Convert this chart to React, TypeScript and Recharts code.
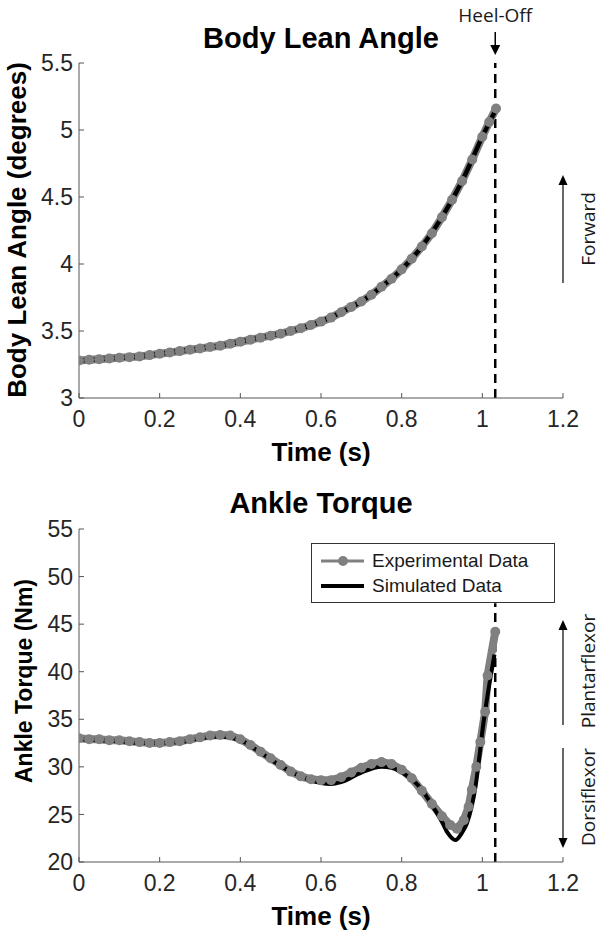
import * as React from 'react';
import {
  Legend,
  Line,
  LineChart,
  ReferenceLine,
  XAxis,
  YAxis,
} from 'recharts';

// body lean angle (deg) over time (s)
const leanExpTime = [
  0, 0.025, 0.05, 0.075, 0.1, 0.125, 0.15, 0.175, 0.2, 0.225, 0.25, 0.275,
  0.3, 0.325, 0.35, 0.375, 0.4, 0.425, 0.45, 0.475, 0.5, 0.525, 0.55, 0.575,
  0.6, 0.625, 0.65, 0.675, 0.7, 0.725, 0.75, 0.775, 0.8, 0.825, 0.85, 0.875,
  0.9, 0.925, 0.95, 0.975, 1.0, 1.017, 1.034,
];
const leanExpAngle = [
  3.28, 3.285, 3.29, 3.295, 3.3, 3.305, 3.31, 3.32, 3.33, 3.34, 3.35, 3.36,
  3.37, 3.38, 3.39, 3.405, 3.42, 3.435, 3.45, 3.465, 3.48, 3.5, 3.52, 3.545,
  3.57, 3.6, 3.64, 3.68, 3.72, 3.77, 3.83, 3.89, 3.96, 4.04, 4.13, 4.23,
  4.35, 4.48, 4.62, 4.78, 4.95, 5.06, 5.16,
];
const leanSimTime = [
  0, 0.05, 0.1, 0.15, 0.2, 0.25, 0.3, 0.35, 0.4, 0.45, 0.5, 0.55, 0.6, 0.65,
  0.7, 0.75, 0.8, 0.85, 0.9, 0.95, 1.0, 1.03,
];
const leanSimAngle = [
  3.28, 3.29, 3.3, 3.31, 3.33, 3.35, 3.37, 3.39, 3.42, 3.45, 3.48, 3.52, 3.57,
  3.64, 3.72, 3.83, 3.96, 4.13, 4.35, 4.62, 4.95, 5.13,
];

// ankle torque (Nm) over time (s)
const torqueExpTime = [
  0, 0.025, 0.05, 0.075, 0.1, 0.125, 0.15, 0.175, 0.2, 0.225, 0.25, 0.275,
  0.3, 0.325, 0.35, 0.375, 0.4, 0.425, 0.45, 0.475, 0.5, 0.525, 0.55, 0.575,
  0.6, 0.625, 0.65, 0.675, 0.7, 0.725, 0.75, 0.775, 0.8, 0.825, 0.85, 0.875,
  0.9, 0.92, 0.937, 0.954, 0.966, 0.974, 0.985, 0.995, 1.007, 1.013, 1.032,
];
const torqueExpValue = [
  33.0, 32.9, 32.9, 32.8, 32.8, 32.7, 32.6, 32.5, 32.5, 32.6, 32.7, 32.9,
  33.1, 33.3, 33.35, 33.3, 32.9, 32.3, 31.6, 30.9, 30.2, 29.5, 29.0, 28.7,
  28.6, 28.6, 28.9, 29.4, 29.9, 30.3, 30.5, 30.3, 29.7, 28.8, 27.5, 26.1,
  24.8, 23.9, 23.5, 24.4, 25.8, 27.6, 30.0, 32.6, 35.8, 39.6, 44.2,
];
const torqueSimTime = [
  0, 0.05, 0.1, 0.15, 0.2, 0.25, 0.3, 0.35, 0.4, 0.45, 0.5, 0.55, 0.6, 0.625,
  0.65, 0.7, 0.75, 0.775, 0.8, 0.825, 0.85, 0.875, 0.9, 0.915, 0.933, 0.95,
  0.962, 0.983, 1.003, 1.03,
];
const torqueSimValue = [
  32.9, 32.8, 32.7, 32.5, 32.5, 32.6, 33.0, 33.2, 32.8, 31.5, 30.1, 29.0,
  28.3, 28.2, 28.4, 29.4, 30.0, 29.9, 29.4, 28.7, 27.6, 26.0, 24.2, 23.0,
  22.3, 23.1, 24.1, 27.9, 34.7, 41.8,
];

const timeTicks = [0, 0.2, 0.4, 0.6, 0.8, 1, 1.2];
const leanTicks = [3, 3.5, 4, 4.5, 5, 5.5];
const torqueTicks = [20, 25, 30, 35, 40, 45, 50, 55];
const heelOffTime = 1.032;
// the torque panel's dashed marker stops just under the legend box
const heelOffTorqueSpan = [20, 47.2];

const zip = (ts: number[], vs: number[]) => ts.map((t, i) => ({ t, v: vs[i] }));

const expColor = '#808080';
const axisColor = '#555555';
const sansFont = '"Liberation Sans", Arial, sans-serif';
const noteFont = '"Open Sans", sans-serif';

const tickStyle = { fill: '#262626', fontSize: 23, fontFamily: sansFont };

const HeelOffMark = (props: any) => {
  const { x, y } = props.viewBox;
  return (
    <g>
      <text
        x={x}
        y={y - 41}
        textAnchor="middle"
        fontFamily={noteFont}
        fontSize={19}
        fill="#1a1a1a"
      >
        Heel-Off
      </text>
      <line x1={x} x2={x} y1={y - 31} y2={y - 17} stroke="#000" strokeWidth={1.5} />
      <path d={`M${x - 5},${y - 18} L${x + 5},${y - 18} L${x},${y - 8} Z`} fill="#000" />
    </g>
  );
};

const LegendBox = (props: any) => {
  const { payload } = props;
  return (
    <div
      style={{
        width: 244,
        height: 60,
        boxSizing: 'border-box',
        border: '1px solid #333',
        background: '#fff',
        paddingTop: 4,
        paddingLeft: 8,
        fontFamily: sansFont,
        fontSize: 19,
        color: '#1a1a1a',
      }}
    >
      {(payload || []).map((entry: any, i: number) => (
        <div key={i} style={{ display: 'flex', alignItems: 'center', height: 25 }}>
          <svg width={46} height={14} style={{ marginRight: 6 }}>
            {i === 0 ? (
              <>
                <line x1={1} x2={44} y1={7} y2={7} stroke={expColor} strokeWidth={3} />
                <circle cx={23} cy={7} r={5} fill={expColor} />
              </>
            ) : (
              <line x1={1} x2={44} y1={7} y2={7} stroke="#000" strokeWidth={4} />
            )}
          </svg>
          <span>{entry.value}</span>
        </div>
      ))}
    </div>
  );
};

const Arrow = ({ x, y1, y2 }: { x: number; y1: number; y2: number }) => {
  // arrow from y1 to y2, head at y2
  const dir = y2 > y1 ? 1 : -1;
  return (
    <g>
      <line x1={x} x2={x} y1={y1} y2={y2 - dir * 9} stroke="#000" strokeWidth={1.2} />
      <path
        d={`M${x - 4.5},${y2 - dir * 10} L${x + 4.5},${y2 - dir * 10} L${x},${y2} Z`}
        fill="#000"
      />
    </g>
  );
};

const SideNote = ({ x, y, children }: { x: number; y: number; children: string }) => (
  <text
    x={x}
    y={y}
    transform={`rotate(-90 ${x} ${y})`}
    textAnchor="middle"
    dominantBaseline="central"
    fontFamily={noteFont}
    fontSize={19}
    fill="#1a1a1a"
  >
    {children}
  </text>
);

export default function App() {
  const leanExp = zip(leanExpTime, leanExpAngle);
  const leanSim = zip(leanSimTime, leanSimAngle);
  const torqueExp = zip(torqueExpTime, torqueExpValue);
  const torqueSim = zip(torqueSimTime, torqueSimValue);

  const xAxis = (
    <XAxis
      dataKey="t"
      type="number"
      domain={[0, 1.2]}
      ticks={timeTicks}
      height={30}
      stroke={axisColor}
      tickSize={-5}
      tickMargin={18}
      tick={tickStyle}
      interval={0}
      allowDataOverflow
    />
  );

  const expLine = (data: any[], name?: string) => (
    <Line
      data={data}
      dataKey="v"
      name={name}
      type="linear"
      stroke={expColor}
      strokeWidth={8}
      dot={{ r: 5, fill: expColor, stroke: 'none' }}
      activeDot={false}
      isAnimationActive={false}
    />
  );

  return (
    <div
      style={{
        position: 'absolute',
        left: 0,
        top: 0,
        width: 600,
        height: 940,
        background: '#fff',
      }}
    >
      <div style={{ position: 'absolute', left: 0, top: 0 }}>
        <LineChart
          width={600}
          height={470}
          margin={{ top: 63, right: 37, bottom: 42, left: 19 }}
        >
          {xAxis}
          <YAxis
            type="number"
            domain={[3, 5.5]}
            ticks={leanTicks}
            width={60}
            stroke={axisColor}
            tickSize={-5}
            tickMargin={11}
            tick={tickStyle}
            interval={0}
          />
          <ReferenceLine
            x={heelOffTime}
            stroke="#000"
            strokeWidth={2.5}
            strokeDasharray="9 6"
            label={HeelOffMark}
          />
          {expLine(leanExp)}
          <Line
            data={leanSim}
            dataKey="v"
            type="monotone"
            stroke="#000"
            strokeWidth={4.5}
            dot={false}
            activeDot={false}
            isAnimationActive={false}
          />
        </LineChart>
      </div>

      <div style={{ position: 'absolute', left: 0, top: 470 }}>
        <LineChart
          width={600}
          height={470}
          margin={{ top: 59, right: 37, bottom: 48, left: 19 }}
        >
          {xAxis}
          <YAxis
            type="number"
            domain={[20, 55]}
            ticks={torqueTicks}
            width={60}
            stroke={axisColor}
            tickSize={-5}
            tickMargin={11}
            tick={tickStyle}
            interval={0}
          />
          <ReferenceLine
            segment={[
              { x: heelOffTime, y: heelOffTorqueSpan[0] },
              { x: heelOffTime, y: heelOffTorqueSpan[1] },
            ]}
            stroke="#000"
            strokeWidth={2.5}
            strokeDasharray="9 6"
          />
          {expLine(torqueExp, 'Experimental Data')}
          <Line
            data={torqueSim}
            dataKey="v"
            name="Simulated Data"
            type="monotone"
            stroke="#000"
            strokeWidth={4}
            dot={false}
            activeDot={false}
            isAnimationActive={false}
          />
          <Legend
            layout="horizontal"
            verticalAlign="middle"
            align="center"
            content={LegendBox}
            wrapperStyle={{ left: 311, top: 73, width: 244, height: 60 }}
          />
        </LineChart>
      </div>

      {/* titles, axis labels and side notes */}
      <svg
        width={600}
        height={940}
        style={{ position: 'absolute', left: 0, top: 0, pointerEvents: 'none' }}
      >
        <g fontFamily={sansFont} fontWeight="bold" fill="#000" textAnchor="middle">
          <text x={321} y={48} fontSize={29}>Body Lean Angle</text>
          <text x={321} y={461} fontSize={26}>Time (s)</text>
          <text x={26} y={230} fontSize={26} transform="rotate(-90 26 230)">
            Body Lean Angle (degrees)
          </text>
          <text x={321} y={513} fontSize={29}>Ankle Torque</text>
          <text x={321} y={925} fontSize={26}>Time (s)</text>
          <text x={32} y={681} fontSize={23} transform="rotate(-90 32 681)">
            Ankle Torque (Nm)
          </text>
        </g>
        <Arrow x={563} y1={283} y2={175} />
        <SideNote x={588} y={229}>Forward</SideNote>
        <Arrow x={563} y1={725} y2={620} />
        <SideNote x={588} y={671}>Plantarflexor</SideNote>
        <Arrow x={563} y1={748} y2={848} />
        <SideNote x={588} y={797}>Dorsiflexor</SideNote>
      </svg>
    </div>
  );
}
